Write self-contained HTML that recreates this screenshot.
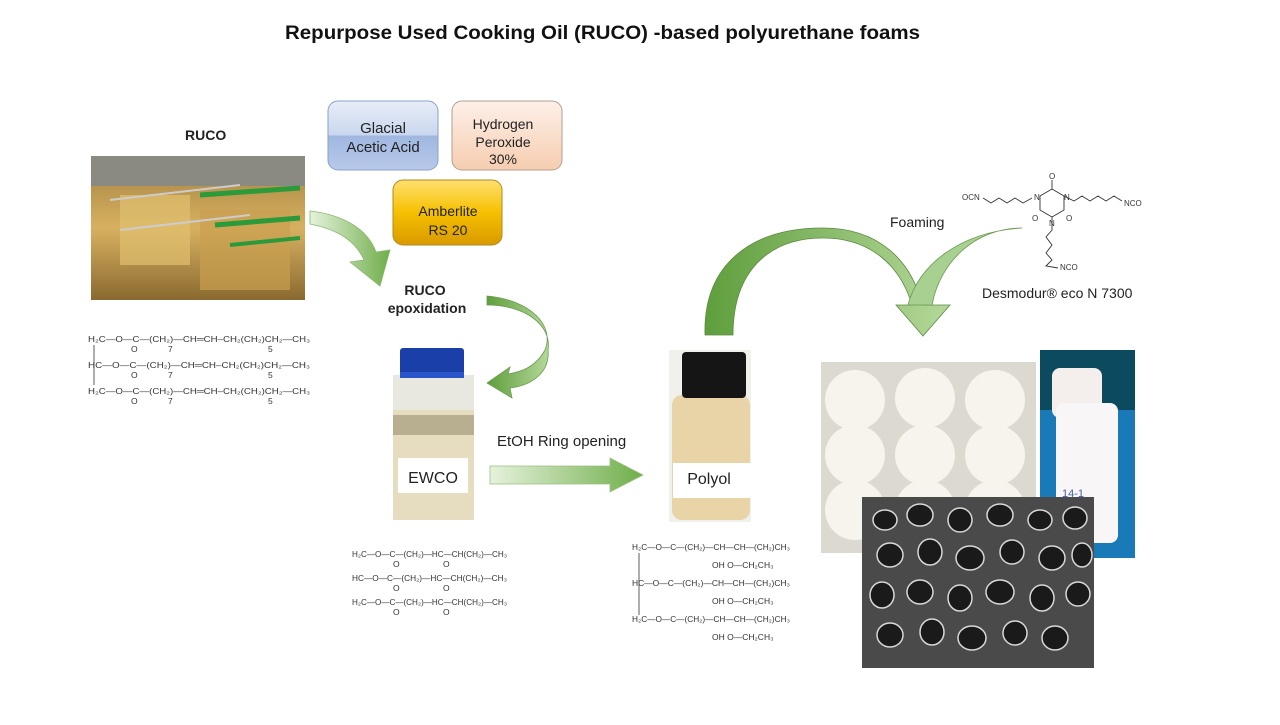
<!DOCTYPE html>
<html><head><meta charset="utf-8"><style>
body{margin:0;background:#fff;}
svg text{font-family:"Liberation Sans",sans-serif;}
.ch{font-size:8.5px;fill:#333;}
</style></head><body>
<svg width="1280" height="720" viewBox="0 0 1280 720" xmlns="http://www.w3.org/2000/svg">
<defs>
<linearGradient id="gb" x1="0" y1="0" x2="0" y2="1"><stop offset="0" stop-color="#e8eef8"/><stop offset="0.5" stop-color="#c9d6ee"/><stop offset="0.5" stop-color="#9fb7e0"/><stop offset="1" stop-color="#b8c9ea"/></linearGradient>
<linearGradient id="gp" x1="0" y1="0" x2="0" y2="1"><stop offset="0" stop-color="#fdf0e8"/><stop offset="1" stop-color="#f6cdb0"/></linearGradient>
<linearGradient id="gy" x1="0" y1="0" x2="0" y2="1"><stop offset="0" stop-color="#ffe070"/><stop offset="0.5" stop-color="#f5c000"/><stop offset="1" stop-color="#d99a00"/></linearGradient>
<linearGradient id="ga" x1="0" y1="0" x2="1" y2="0"><stop offset="0" stop-color="#e6f2dc"/><stop offset="1" stop-color="#6fae4a"/></linearGradient>
<linearGradient id="gc" x1="0" y1="0" x2="1" y2="0"><stop offset="0" stop-color="#5e9e3c"/><stop offset="1" stop-color="#b5d89a"/></linearGradient>
<linearGradient id="gf" x1="0" y1="0" x2="0" y2="1"><stop offset="0" stop-color="#a08040"/><stop offset="0.5" stop-color="#d8b060"/><stop offset="1" stop-color="#8a6a30"/></linearGradient>
</defs>

<text x="285" y="39" font-size="19" font-weight="bold" fill="#111" textLength="635" lengthAdjust="spacingAndGlyphs">Repurpose Used Cooking Oil (RUCO) -based polyurethane foams</text>

<text x="185" y="140" font-size="14" font-weight="bold" fill="#222">RUCO</text>
<rect x="91" y="156" width="214" height="144" fill="url(#gf)"/>
<rect x="91" y="156" width="214" height="30" fill="#8a8a80"/>
<rect x="120" y="195" width="70" height="70" fill="#e0c070" opacity="0.7"/>
<rect x="200" y="210" width="90" height="80" fill="#c9a050" opacity="0.7"/>
<line x1="200" y1="195" x2="300" y2="188" stroke="#2a9a3a" stroke-width="5"/>
<line x1="215" y1="225" x2="300" y2="218" stroke="#2a9a3a" stroke-width="5"/>
<line x1="230" y1="245" x2="300" y2="238" stroke="#2a9a3a" stroke-width="4"/>
<line x1="110" y1="200" x2="240" y2="185" stroke="#ccc" stroke-width="2"/>
<line x1="120" y1="230" x2="250" y2="215" stroke="#ccc" stroke-width="2"/>

<g class="ch">
<text x="88" y="342" textLength="222" lengthAdjust="spacingAndGlyphs">H₂C—O—C—(CH₂)—CH═CH–CH₂(CH₂)CH₂—CH₃</text>
<text x="88" y="368" textLength="222" lengthAdjust="spacingAndGlyphs">HC—O—C—(CH₂)—CH═CH–CH₂(CH₂)CH₂—CH₃</text>
<text x="88" y="394" textLength="222" lengthAdjust="spacingAndGlyphs">H₂C—O—C—(CH₂)—CH═CH–CH₂(CH₂)CH₂—CH₃</text>
<text x="131" y="352">O</text><text x="131" y="378">O</text><text x="131" y="404">O</text>
<text x="168" y="352">7</text><text x="168" y="378">7</text><text x="168" y="404">7</text>
<text x="268" y="352">5</text><text x="268" y="378">5</text><text x="268" y="404">5</text>
</g>
<line x1="94" y1="345" x2="94" y2="385" stroke="#333" stroke-width="0.8"/>

<rect x="328" y="101" width="110" height="69" rx="10" fill="url(#gb)" stroke="#8aa0c8"/>
<text x="383" y="133" font-size="15" text-anchor="middle" fill="#222">Glacial</text>
<text x="383" y="152" font-size="15" text-anchor="middle" fill="#222">Acetic Acid</text>
<rect x="452" y="101" width="110" height="69" rx="10" fill="url(#gp)" stroke="#b0a090"/>
<text x="503" y="129" font-size="14" text-anchor="middle" fill="#222">Hydrogen</text>
<text x="503" y="147" font-size="14" text-anchor="middle" fill="#222">Peroxide</text>
<text x="503" y="164" font-size="14" text-anchor="middle" fill="#222">30%</text>
<rect x="393" y="180" width="109" height="65" rx="10" fill="url(#gy)" stroke="#b08a20"/>
<text x="448" y="216" font-size="14" text-anchor="middle" fill="#222">Amberlite</text>
<text x="448" y="235" font-size="14" text-anchor="middle" fill="#222">RS 20</text>

<path d="M310,211 C345,215 368,230 376,252 L390,250 L380,286 L350,262 L364,260 C356,242 340,230 310,224 Z" fill="url(#ga)" stroke="#8ab870" stroke-width="0.8"/>
<text x="425" y="295" font-size="14" font-weight="bold" text-anchor="middle" fill="#222">RUCO</text>
<text x="427" y="313" font-size="14" font-weight="bold" text-anchor="middle" fill="#222">epoxidation</text>
<path d="M487,296 C530,300 555,325 545,350 C535,368 520,372 508,374 L510,367 L487,383 L512,398 L510,388 C535,385 550,370 548,350 C552,325 525,305 487,305 Z" fill="url(#gc)" stroke="#6a9a50" stroke-width="0.8"/>

<rect x="393" y="375" width="81" height="145" fill="#e6dcc0"/>
<rect x="393" y="375" width="81" height="35" fill="#e8e8e0"/>
<rect x="393" y="415" width="81" height="20" fill="#b8ae90"/>
<rect x="400" y="348" width="64" height="30" rx="3" fill="#1a3fa8"/>
<rect x="400" y="372" width="64" height="6" fill="#2a55c8"/>
<rect x="398" y="458" width="70" height="35" fill="#fff"/>
<text x="433" y="483" font-size="16" text-anchor="middle" fill="#222">EWCO</text>

<text x="497" y="446" font-size="15" fill="#222">EtOH Ring opening</text>
<path d="M490,466 L610,466 L610,458 L643,475 L610,492 L610,484 L490,484 Z" fill="url(#ga)" stroke="#9ac080" stroke-width="0.8"/>

<g class="ch">
<text x="352" y="557" textLength="155" lengthAdjust="spacingAndGlyphs">H₂C—O—C—(CH₂)—HC—CH(CH₂)—CH₃</text>
<text x="352" y="581" textLength="155" lengthAdjust="spacingAndGlyphs">HC—O—C—(CH₂)—HC—CH(CH₂)—CH₃</text>
<text x="352" y="605" textLength="155" lengthAdjust="spacingAndGlyphs">H₂C—O—C—(CH₂)—HC—CH(CH₂)—CH₃</text>
<text x="393" y="567">O</text><text x="393" y="591">O</text><text x="393" y="615">O</text>
<text x="443" y="567">O</text><text x="443" y="591">O</text><text x="443" y="615">O</text>
</g>

<rect x="669" y="350" width="82" height="172" fill="#f0f0ec"/>
<rect x="672" y="395" width="78" height="125" rx="10" fill="#e8d4a6"/>
<rect x="682" y="352" width="64" height="46" rx="4" fill="#151515"/>
<rect x="673" y="463" width="78" height="35" fill="#fff"/>
<text x="709" y="484" font-size="16" text-anchor="middle" fill="#222">Polyol</text>

<g class="ch">
<text x="632" y="550" textLength="158" lengthAdjust="spacingAndGlyphs">H₂C—O—C—(CH₂)—CH—CH—(CH₂)CH₃</text>
<text x="632" y="586" textLength="158" lengthAdjust="spacingAndGlyphs">HC—O—C—(CH₂)—CH—CH—(CH₂)CH₃</text>
<text x="632" y="622" textLength="158" lengthAdjust="spacingAndGlyphs">H₂C—O—C—(CH₂)—CH—CH—(CH₂)CH₃</text>
<text x="712" y="568">OH  O—CH₂CH₃</text>
<text x="712" y="604">OH  O—CH₂CH₃</text>
<text x="712" y="640">OH  O—CH₂CH₃</text>
</g>
<line x1="639" y1="553" x2="639" y2="615" stroke="#333" stroke-width="0.8"/>

<path d="M705,335 C703,265 750,228 823,228 C880,228 912,262 922,305 L950,305 L923,336 L896,305 L912,305 C900,265 870,238 823,238 C770,238 733,270 733,335 Z" fill="url(#gc)" stroke="#5a8a40" stroke-width="0.8"/>
<path d="M1022,228 C975,228 940,262 932,305 L908,305 C918,265 960,232 1022,228 Z" fill="#a8d090" stroke="#6a9a50" stroke-width="0.8"/>
<text x="890" y="227" font-size="14" fill="#222">Foaming</text>

<g stroke="#333" stroke-width="0.9" fill="none">
<polyline points="983,198 991,203 999,198 1007,203 1015,198 1023,203 1032,198"/>
<polygon points="1040,196 1052,189 1064,196 1064,210 1052,217 1040,210"/>
<polyline points="1064,196 1074,201 1082,196 1090,201 1098,196 1106,201 1114,196 1122,201"/>
<polyline points="1052,217 1052,230 1046,237 1052,245 1046,253 1052,260 1046,266 1058,268"/>
<line x1="1052" y1="189" x2="1052" y2="180"/>
</g>
<g font-size="8" fill="#333">
<text x="962" y="200">OCN</text><text x="1049" y="179">O</text><text x="1032" y="221">O</text><text x="1066" y="221">O</text>
<text x="1034" y="200">N</text><text x="1064" y="200">N</text><text x="1049" y="226">N</text>
<text x="1124" y="206">NCO</text><text x="1060" y="270">NCO</text>
</g>
<text x="982" y="298" font-size="14" fill="#222">Desmodur® eco N 7300</text>

<rect x="821" y="362" width="215" height="191" fill="#dcdad0"/>
<g fill="#f6f4ec">
<circle cx="855" cy="400" r="30"/><circle cx="925" cy="398" r="30"/><circle cx="995" cy="400" r="30"/>
<circle cx="855" cy="455" r="30"/><circle cx="925" cy="455" r="30"/><circle cx="995" cy="455" r="30"/>
<circle cx="855" cy="510" r="30"/><circle cx="925" cy="510" r="30"/><circle cx="995" cy="510" r="30"/>
</g>
<rect x="1040" y="350" width="95" height="208" fill="#1a7ab8"/>
<rect x="1040" y="350" width="95" height="60" fill="#0c4a60"/>
<rect x="1052" y="368" width="50" height="50" rx="8" fill="#f4eeec"/>
<rect x="1056" y="403" width="62" height="140" rx="8" fill="#f8f6f6"/>
<text x="1062" y="497" font-size="11" fill="#4060a0">14-1</text>
<rect x="862" y="497" width="232" height="171" fill="#4a4a4a"/>
<g fill="#1a1a1a" stroke="#d8d8d8" stroke-width="1.5">
<ellipse cx="885" cy="520" rx="12" ry="10"/><ellipse cx="920" cy="515" rx="13" ry="11"/><ellipse cx="960" cy="520" rx="12" ry="12"/><ellipse cx="1000" cy="515" rx="13" ry="11"/><ellipse cx="1040" cy="520" rx="12" ry="10"/><ellipse cx="1075" cy="518" rx="12" ry="11"/>
<ellipse cx="890" cy="555" rx="13" ry="12"/><ellipse cx="930" cy="552" rx="12" ry="13"/><ellipse cx="970" cy="558" rx="14" ry="12"/><ellipse cx="1012" cy="552" rx="12" ry="12"/><ellipse cx="1052" cy="558" rx="13" ry="12"/><ellipse cx="1082" cy="555" rx="10" ry="12"/>
<ellipse cx="882" cy="595" rx="12" ry="13"/><ellipse cx="920" cy="592" rx="13" ry="12"/><ellipse cx="960" cy="598" rx="12" ry="13"/><ellipse cx="1000" cy="592" rx="14" ry="12"/><ellipse cx="1042" cy="598" rx="12" ry="13"/><ellipse cx="1078" cy="594" rx="12" ry="12"/>
<ellipse cx="890" cy="635" rx="13" ry="12"/><ellipse cx="932" cy="632" rx="12" ry="13"/><ellipse cx="972" cy="638" rx="14" ry="12"/><ellipse cx="1015" cy="633" rx="12" ry="12"/><ellipse cx="1055" cy="638" rx="13" ry="12"/>
</g>
</svg>
</body></html>
